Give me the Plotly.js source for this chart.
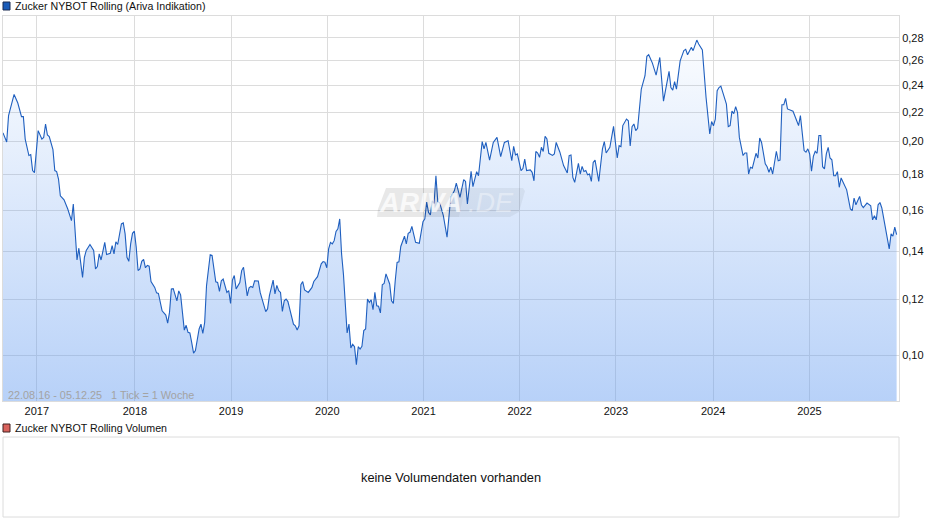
<!DOCTYPE html>
<html>
<head>
<meta charset="utf-8">
<script src="https://cdn.plot.ly/plotly-3.0.1.min.js"></script>
<style>html,body{margin:0;padding:0;background:#fff}#c{width:940px;height:526px}</style>
</head>
<body>
<div id="c"></div>
<script>
const startDate = '2016-08-22';
const endDate = '2025-12-03';
const weeks = [0,2,3,4,6,8,10,11,12,14,15,16,17,19,21,22,23,24,25,27,28,29,30,31,33,35,37,38,40,41,43,44,45,47,49,50,51,52,53,55,56,58,59,60,61,62,64,65,66,67,68,69,70,71,72,73,74,75,76,77,78,79,80,82,83,84,86,88,89,90,91,92,94,95,96,98,99,100,101,102,103,104,106,107,108,109,110,112,113,115,116,117,118,119,121,122,123,124,125,126,128,129,130,132,133,134,135,136,138,139,140,142,143,144,146,147,148,149,150,151,152,153,154,156,157,158,159,160,161,162,163,165,167,168,170,172,173,174,175,176,177,178,179,180,181,182,183,184,186,187,188,189,190,191,192,193,194,195,196,197,198,199,200,201,202,203,204,205,206,207,209,210,211,212,213,214,215,217,218,219,220,221,223,225,227,228,229,230,231,232,233,234,235,236,238,240,242,244,245,247,249,250,251,253,254,256,257,259,260,261,263,265,267,269,271,273,275,276,277,278,280,281,282,283,285,286,287,288,289,290,291,292,293,294,295,297,298,299,301,303,305,306,307,308,309,311,312,313,314,315,316,317,318,319,320,322,324,325,326,328,330,332,333,334,335,337,338,339,340,341,342,343,344,345,347,348,349,350,351,353,355,357,360,361,362,363,364,366,368,369,370,372,373,375,376,378,380,382,383,384,385,386,387,388,390,391,392,393,394,395,396,397,398,400,401,402,403,404,405,407,408,409,410,412,413,414,415,416,418,419,420,421,422,423,424,427,429,430,431,432,433,434,435,436,437,438,439,440,441,442,443,444,445,446,447,448,449,450,451,452,453,456,458,459,460,461,463,464,465,467,469,470,471,472,473,474,475,479,480,481,482,483];
const prices = [.2057,.1997,.2175,.2223,.2330,.2266,.2168,.2168,.2016,.1911,.1917,.1820,.1808,.2072,.2016,.2027,.2117,.2043,.2032,.1948,.1820,.1814,.1771,.1677,.1655,.1607,.1547,.1633,.1362,.1415,.1287,.1374,.1405,.1432,.1405,.1323,.1333,.1389,.1362,.1442,.1386,.1392,.1427,.1389,.1445,.1432,.1531,.1536,.1482,.1374,.1356,.1435,.1485,.1495,.1420,.1316,.1323,.1356,.1365,.1328,.1338,.1335,.1270,.1246,.1224,.1222,.1155,.1139,.1110,.1149,.1240,.1241,.1193,.1232,.1216,.1085,.1102,.1077,.1075,.1042,.1007,.1015,.1089,.1106,.1073,.1112,.1253,.1385,.1382,.1269,.1266,.1230,.1273,.1280,.1226,.1233,.1183,.1276,.1295,.1240,.1266,.1316,.1330,.1212,.1244,.1250,.1246,.1273,.1272,.1226,.1200,.1152,.1162,.1213,.1276,.1220,.1254,.1233,.1226,.1153,.1193,.1200,.1190,.1137,.1106,.1100,.1085,.1100,.1257,.1270,.1236,.1226,.1246,.1270,.1290,.1345,.1355,.1352,.1328,.1412,.1442,.1435,.1450,.1494,.1507,.1556,.1389,.1301,.1075,.1106,.1024,.1036,.1028,.0970,.1028,.1020,.1029,.1083,.1089,.1200,.1187,.1197,.1159,.1226,.1174,.1172,.1147,.1257,.1262,.1302,.1260,.1193,.1183,.1273,.1351,.1354,.1423,.1471,.1435,.1485,.1490,.1519,.1442,.1438,.1542,.1556,.1643,.1589,.1576,.1650,.1636,.1790,.1645,.1640,.1573,.1466,.1668,.1706,.1748,.1668,.1767,.1757,.1633,.1816,.1728,.1814,.1790,.2000,.1953,.1994,.1883,.1994,.2027,.1904,.1994,.2005,.1879,.1969,.1915,.1921,.1820,.1832,.1889,.1820,.1824,.1810,.1761,.1936,.1927,.1900,.1963,.1936,.2034,.2016,.1925,.1912,.1921,.1994,.1932,.1850,.1806,.1911,.1915,.1780,.1752,.1863,.1800,.1845,.1815,.1820,.1795,.1800,.1757,.1869,.1883,.1757,.1953,.2000,.1927,.1963,.2101,.1896,.1973,.1967,.2106,.2151,.2139,.1971,.2099,.2117,.2072,.2087,.2246,.2371,.2476,.2636,.2650,.2618,.2579,.2481,.2627,.2280,.2511,.2383,.2363,.2429,.2371,.2598,.2686,.2697,.2650,.2714,.2686,.2779,.2744,.2691,.2307,.2050,.2134,.2105,.2151,.2358,.2383,.2394,.2295,.2258,.2099,.2106,.2207,.2190,.2239,.2198,.2027,.1911,.1927,.1927,.1800,.1840,.1834,.1925,.1896,.2023,.1994,.1860,.1843,.1810,.1840,.1800,.1938,.1879,.1883,.2253,.2253,.2301,.2223,.2206,.2139,.2106,.2175,.2072,.1942,.1932,.1953,.1921,.1816,.1906,.1938,.1925,.2039,.2039,.1843,.1830,.1921,.1963,.1896,.1885,.1790,.1790,.1814,.1724,.1777,.1710,.1607,.1598,.1665,.1629,.1674,.1628,.1614,.1638,.1624,.1551,.1572,.1551,.1629,.1641,.1612,.1412,.1482,.1471,.1515,.1479];
const yearTicks = ['2016-12-28','2018-01-03','2019-01-02','2020-01-01','2020-12-30','2021-12-29','2022-12-28','2023-12-31','2024-12-29'];
const yearLabels = ['2017','2018','2019','2020','2021','2022','2023','2024','2025'];
const priceTicks = [.10,.12,.14,.16,.18,.20,.22,.24,.26,.28];
const priceTitle = 'Zucker NYBOT Rolling (Ariva Indikation)';
const volumeTitle = 'Zucker NYBOT Rolling Volumen';
const rangeNote = '22.08.16 - 05.12.25   1 Tick = 1 Woche';
const noVolume = 'keine Volumendaten vorhanden';

const t0 = Date.parse(startDate + 'T00:00:00Z');
const dates = weeks.map(w => new Date(t0 + w * 7 * 86400000).toISOString().slice(0, 10));
const FONT = '"Liberation Sans", Arial, sans-serif';
const W = 940, H = 526, L = 3, R = 899, T = 16, B = 401;
const pageAnn = (x, y, text, anchor, size, color) => ({
  xref: 'paper', yref: 'paper', x: (x - L) / (R - L), y: (B - y) / (B - T),
  text, showarrow: false, xanchor: anchor, yanchor: 'middle',
  font: {family: FONT, size, color}, borderpad: 0
});
const pageRect = (x0, y0, x1, y1, fill, line, width) => ({
  type: 'rect', xref: 'paper', yref: 'paper',
  x0: (x0 - L) / (R - L), x1: (x1 - L) / (R - L),
  y0: (B - y0) / (B - T), y1: (B - y1) / (B - T),
  fillcolor: fill, line: {color: line, width}
});

const trace = {
  x: dates, y: prices, type: 'scatter', mode: 'lines',
  line: {color: '#1f5fbf', width: 1.1},
  fill: 'tozeroy',
  fillgradient: {type: 'vertical', start: 0.086, stop: 0.2997,
    colorscale: [[0, 'rgba(99,155,240,0.46)'], [1, 'rgba(99,155,240,0.0)']]},
  hoverinfo: 'skip'
};
const layout = {
  width: W, height: H, showlegend: false,
  paper_bgcolor: '#fff', plot_bgcolor: '#fff',
  separators: ', ',
  margin: {l: L, r: W - R, t: T, b: H - B, pad: 0},
  font: {family: FONT, size: 11, color: '#111'},
  xaxis: {
    type: 'date', range: [startDate, endDate], tickmode: 'array',
    tickvals: yearTicks, ticktext: yearLabels, ticks: '',
    showgrid: true, gridcolor: '#dcdcdc', gridwidth: 1,
    showline: true, linecolor: '#dcdcdc', linewidth: 1, mirror: true,
    zeroline: false, tickfont: {family: FONT, size: 11, color: '#111'}, tickangle: 0
  },
  yaxis: {
    type: 'log', side: 'right', range: [Math.log10(0.0862), Math.log10(0.3005)],
    tickmode: 'array', tickvals: priceTicks, tickformat: '.2f', ticks: '',
    showgrid: true, gridcolor: '#dcdcdc', gridwidth: 1,
    showline: true, linecolor: '#dcdcdc', linewidth: 1, mirror: true,
    zeroline: false, tickfont: {family: FONT, size: 11, color: '#111'}
  },
  shapes: [
    pageRect(3, 2, 10, 10, '#1a5bb8', '#1a2a50', 1),
    pageRect(3, 424, 10, 432, '#d9625c', '#402020', 1),
    pageRect(3, 437, 899, 517, '#ffffff', '#dcdcdc', 1),
    {type: 'path', xref: 'paper', yref: 'paper', layer: 'above', opacity: 0.09,
     fillcolor: '#000', line: {width: 0},
     path: (() => {
       const fx = x => (x - L) / (R - L), fy = y => (B - y) / (B - T);
       return `M${fx(386)},${fy(188)} L${fx(465)},${fy(188)} L${fx(459)},${fy(217)} L${fx(377)},${fy(217)} L${fx(378)},${fy(209)} Z`;
     })()},
    {type: 'path', xref: 'paper', yref: 'paper', layer: 'above', opacity: 0.05,
     fillcolor: '#000', line: {width: 0},
     path: (() => {
       const fx = x => (x - L) / (R - L), fy = y => (B - y) / (B - T);
       return `M${fx(465)},${fy(188)} L${fx(523)},${fy(188)} L${fx(525)},${fy(191)} L${fx(519)},${fy(212)} L${fx(510)},${fy(217)} L${fx(459)},${fy(217)} Z`;
     })()}
  ],
  annotations: [
    pageAnn(13.5, 6, priceTitle, 'left', 10.67, '#111'),
    pageAnn(13.5, 428, volumeTitle, 'left', 10.67, '#111'),
    pageAnn(7, 395, rangeNote.replace(/ {3}/, '&nbsp;&nbsp;&nbsp;'), 'left', 10.85, '#a3a3a3'),
    pageAnn(451, 477.5, noVolume, 'center', 12.8, '#111'),
    Object.assign(pageAnn(420, 203, 'ARIVA', 'center', 27, 'rgba(255,255,255,0.75)'), {font: {family: FONT, size: 27, color: 'rgba(255,255,255,0.75)', weight: 700, style: 'italic'}}),
    Object.assign(pageAnn(491, 203, '.DE', 'center', 27, 'rgba(255,255,255,0.4)'), {font: {family: FONT, size: 27, color: 'rgba(255,255,255,0.4)', weight: 400, style: 'italic'}})
  ]
};
Plotly.newPlot('c', [trace], layout, {displayModeBar: false, staticPlot: true});
</script>
</body>
</html>
